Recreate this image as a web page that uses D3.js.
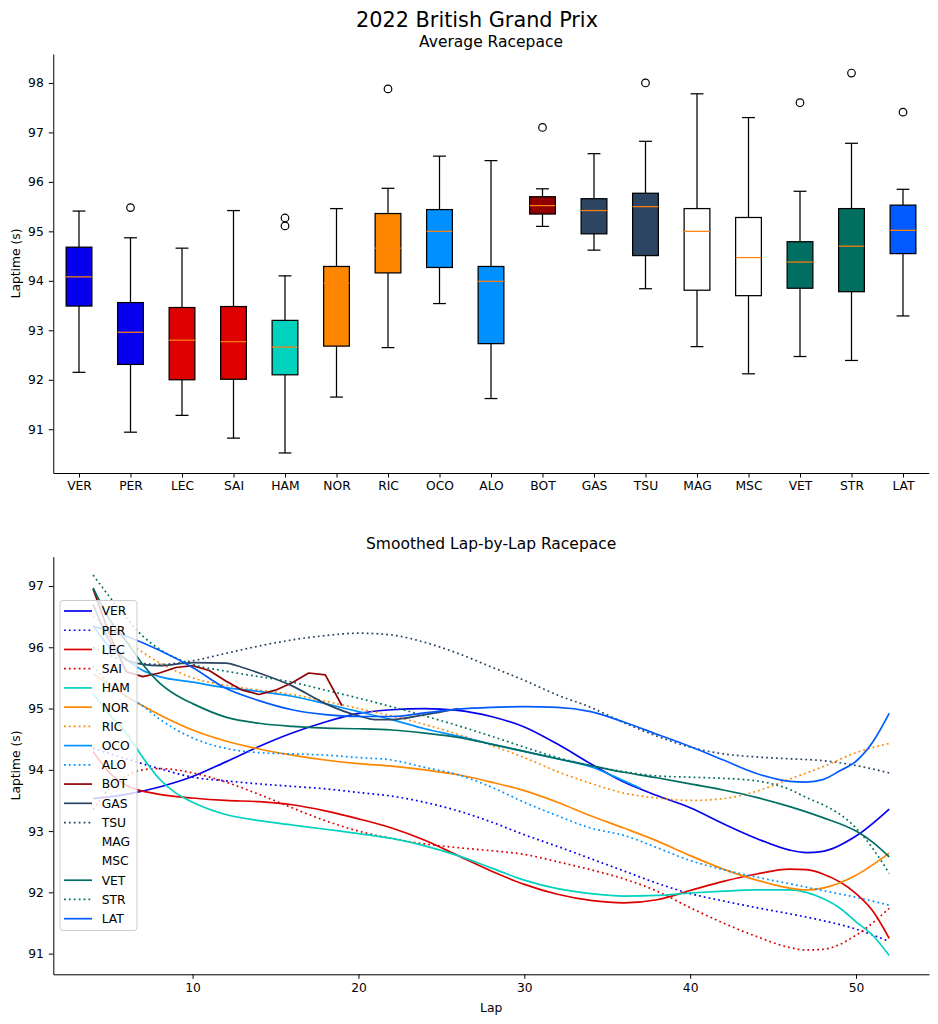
<!DOCTYPE html>
<html><head><meta charset="utf-8">
<script src="https://cdn.jsdelivr.net/npm/d3@7"></script>
<style>
body{margin:0;background:#fff;}
svg{display:block;font-family:"DejaVu Sans",sans-serif;}
</style></head>
<body>
<svg id="chart" width="938" height="1024"></svg>
<script>
// ---------- Box plot data (Average Racepace) ----------
const drivers = ["VER","PER","LEC","SAI","HAM","NOR","RIC","OCO","ALO","BOT","GAS","TSU","MAG","MSC","VET","STR","LAT"];
const boxColors = ["#0600ef","#0600ef","#dc0000","#dc0000","#00d2be","#ff8700","#ff8700","#0090ff","#0090ff","#900000","#2b4562","#2b4562","#ffffff","#ffffff","#006f62","#006f62","#005aff"];
const whiskerLow  = [92.15,90.94,91.28,90.82,90.52,91.65,92.65,93.54,91.62,95.10,94.62,93.84,92.67,92.12,92.47,92.39,93.29];
const q1          = [93.49,92.31,92.00,92.01,92.10,92.68,94.16,94.27,92.73,95.35,94.95,94.51,93.81,93.70,93.85,93.78,94.55];
const medians     = [94.08,92.96,92.80,92.77,92.66,93.95,94.66,95.00,93.99,95.52,95.42,95.50,95.00,94.47,94.38,94.70,95.02];
const q3          = [94.68,93.56,93.46,93.48,93.20,94.29,95.36,95.44,94.29,95.70,95.66,95.77,95.46,95.28,94.79,95.46,95.53];
const whiskerHigh = [95.41,94.87,94.66,95.42,94.10,95.46,95.87,96.52,96.43,95.86,96.57,96.82,97.78,97.30,95.81,96.78,95.85];
const outliers    = [[],[95.48],[],[],[95.27,95.11],[],[97.88],[],[],[97.10],[],[98.00],[],[],[97.60],[98.20],[97.41]];
const boxYTicks = [91,92,93,94,95,96,97,98];

// ---------- Line data (Smoothed Lap-by-Lap Racepace) ----------
const lineDrivers = ["VER","PER","LEC","SAI","HAM","NOR","RIC","OCO","ALO","BOT","GAS","TSU","MAG","MSC","VET","STR","LAT"];
const lineColors  = ["#0600ef","#0600ef","#dc0000","#dc0000","#00d2be","#ff8700","#ff8700","#0090ff","#0090ff","#900000","#2b4562","#2b4562","#ffffff","#ffffff","#006f62","#006f62","#005aff"];
const lineDotted  = [false,true,false,true,false,false,true,false,true,false,false,true,false,true,false,true,false];

const paceVER = [[4,93.53],[6,93.6],[8,93.72],[10,93.89],[12,94.13],[14,94.38],[16,94.6],[18,94.78],[20,94.92],[22,94.98],[24,95.0],[26,94.97],[28,94.87],[30,94.7],[32,94.42],[34,94.1],[36,93.8],[38,93.58],[40,93.38],[42,93.12],[44,92.88],[46,92.69],[47,92.65],[48,92.67],[50,92.92],[52,93.36]];
const pacePER = [[4,94.35],[6,94.18],[8,94.02],[10,93.88],[12,93.82],[14,93.77],[16,93.73],[18,93.69],[20,93.63],[22,93.57],[24,93.47],[26,93.33],[28,93.15],[30,92.94],[32,92.75],[34,92.55],[36,92.35],[38,92.15],[40,91.98],[42,91.86],[44,91.75],[46,91.65],[48,91.54],[50,91.4],[52,91.2]];
const paceLEC = [[4,94.3],[5,93.95],[6,93.75],[8,93.6],[10,93.54],[12,93.5],[14,93.48],[16,93.43],[18,93.33],[20,93.2],[22,93.05],[24,92.85],[26,92.6],[28,92.35],[30,92.13],[32,91.97],[34,91.87],[36,91.83],[38,91.88],[40,92.03],[42,92.18],[44,92.3],[46,92.38],[47,92.37],[48,92.3],[50,91.98],[51,91.7],[52,91.25]];
const paceSAI = [[4,93.35],[5,93.7],[6,93.9],[7,94.0],[8,94.02],[10,93.95],[12,93.8],[14,93.6],[16,93.38],[18,93.17],[20,93.0],[22,92.88],[24,92.79],[26,92.73],[28,92.68],[30,92.62],[32,92.5],[34,92.37],[36,92.22],[38,92.02],[40,91.75],[42,91.5],[44,91.28],[46,91.1],[47,91.06],[48,91.07],[50,91.3],[52,91.74]];
const paceHAM = [[4,95.25],[5,94.9],[6,94.6],[7,94.2],[8,93.85],[9,93.62],[10,93.47],[12,93.27],[14,93.17],[16,93.1],[18,93.03],[20,92.96],[22,92.88],[24,92.76],[26,92.6],[28,92.4],[30,92.2],[32,92.06],[34,91.98],[36,91.94],[38,91.95],[40,91.99],[42,92.02],[44,92.04],[46,92.04],[47,92.0],[48,91.9],[49,91.75],[50,91.52],[51,91.3],[52,90.97]];
const paceNOR = [[4,95.57],[6,95.2],[8,94.9],[10,94.65],[12,94.47],[14,94.34],[16,94.24],[18,94.16],[20,94.1],[22,94.06],[24,94.0],[26,93.92],[28,93.8],[30,93.66],[32,93.47],[34,93.25],[36,93.05],[38,92.84],[40,92.6],[42,92.38],[44,92.2],[46,92.07],[47,92.04],[48,92.07],[50,92.28],[52,92.64]];
const paceRIC = [[4,96.5],[6,96.1],[8,95.75],[10,95.5],[12,95.38],[14,95.3],[16,95.23],[18,95.12],[20,95.0],[22,94.88],[24,94.74],[26,94.58],[28,94.4],[30,94.2],[32,93.97],[34,93.78],[36,93.62],[38,93.54],[40,93.5],[42,93.53],[44,93.65],[46,93.85],[48,94.05],[50,94.28],[52,94.43]];
const paceOCO = [[4,96.35],[5,96.0],[6,95.8],[7,95.62],[8,95.52],[10,95.43],[12,95.34],[14,95.28],[16,95.2],[18,95.08],[20,94.95],[22,94.82],[24,94.67],[26,94.55],[28,94.42],[30,94.3],[32,94.18],[34,94.05],[36,93.82],[37,93.7]];
const paceALO = [[4,95.7],[5,95.4],[6,95.2],[7,95.04],[8,94.83],[10,94.52],[12,94.35],[14,94.28],[16,94.26],[18,94.24],[20,94.2],[22,94.16],[24,94.04],[26,93.92],[28,93.72],[30,93.47],[32,93.25],[34,93.05],[36,92.93],[38,92.73],[40,92.52],[42,92.37],[44,92.25],[46,92.14],[48,92.03],[50,91.92],[52,91.79]];
const paceBOT = [[4,96.95],[5,96.2],[6,95.6],[7,95.52],[8,95.58],[9,95.67],[10,95.7],[11,95.62],[12,95.45],[13,95.3],[14,95.23],[15,95.3],[16,95.42],[17,95.58],[18,95.55],[19,95.05]];
const paceGAS = [[4,96.7],[5,96.1],[6,95.8],[7,95.72],[8,95.7],[10,95.75],[12,95.74],[13,95.67],[14,95.58],[16,95.37],[18,95.08],[20,94.88],[21,94.82],[22,94.82],[24,94.9],[26,95.0]];
const paceTSU = [[4,96.0],[6,95.78],[8,95.72],[10,95.78],[12,95.9],[14,96.02],[16,96.12],[18,96.19],[20,96.23],[22,96.2],[24,96.08],[26,95.9],[28,95.68],[30,95.46],[32,95.22],[34,95.02],[36,94.77],[38,94.55],[40,94.37],[42,94.26],[44,94.21],[46,94.18],[48,94.15],[50,94.07],[52,93.95]];
const paceMAG = [[4,96.5],[10,95.6],[20,95.1],[30,94.6],[40,93.9],[52,93.5]];
const paceMSC = [[4,96.0],[10,95.2],[20,94.7],[30,94.3],[40,93.8],[52,93.2]];
const paceVET = [[4,96.97],[5,96.45],[6,96.1],[7,95.72],[8,95.42],[9,95.22],[10,95.08],[12,94.86],[14,94.76],[16,94.71],[18,94.68],[20,94.67],[22,94.65],[24,94.6],[26,94.53],[28,94.42],[30,94.3],[32,94.18],[34,94.07],[36,93.96],[38,93.87],[40,93.77],[42,93.67],[44,93.55],[46,93.4],[48,93.22],[50,93.0],[51,92.82],[52,92.58]];
const paceSTR = [[4,97.18],[5,96.82],[6,96.48],[7,96.18],[8,95.97],[10,95.72],[12,95.61],[14,95.52],[16,95.43],[18,95.3],[20,95.17],[22,95.03],[24,94.88],[26,94.72],[28,94.55],[30,94.37],[32,94.2],[34,94.07],[36,93.97],[38,93.9],[40,93.88],[42,93.86],[44,93.82],[46,93.68],[47,93.55],[48,93.43],[49,93.28],[50,93.05],[51,92.72],[52,92.31]];
const paceLAT = [[4,96.34],[6,96.18],[8,95.95],[10,95.67],[12,95.33],[14,95.13],[16,94.98],[18,94.9],[20,94.87],[22,94.87],[24,94.93],[26,94.99],[28,95.02],[30,95.03],[32,95.02],[34,94.95],[36,94.78],[38,94.58],[40,94.38],[42,94.16],[44,93.94],[46,93.81],[47,93.8],[48,93.84],[49,93.98],[50,94.14],[51,94.45],[52,94.92]];
const paceSeries = [paceVER,pacePER,paceLEC,paceSAI,paceHAM,paceNOR,paceRIC,paceOCO,paceALO,paceBOT,paceGAS,paceTSU,paceMAG,paceMSC,paceVET,paceSTR,paceLAT];
const lineYTicks = [91,92,93,94,95,96,97];
const lineXTicks = [10,20,30,40,50];

// ---------- Drawing ----------
const svg = d3.select("#chart");
const FS = 12.3;

svg.append("text").attr("x",477).attr("y",26.5).attr("text-anchor","middle")
  .attr("font-size",20.8).text("2022 British Grand Prix");

// Top chart
const t = {l:53.25, r:928.75, t:54, b:473};
const xb = d3.scalePoint().domain(drivers).range([t.l,t.r]).padding(0.5);
const yb = d3.scaleLinear().domain([90.115,98.585]).range([t.b,t.t]);
const step = xb.step();
const boxW = step*0.5, capW = step*0.25;

svg.append("text").attr("x",(t.l+t.r)/2).attr("y",47).attr("text-anchor","middle")
  .attr("font-size",15.5).text("Average Racepace");

const gb = svg.append("g");
drivers.forEach((d,i)=>{
  const cx = xb(d);
  const g = gb.append("g");
  // whiskers
  g.append("line").attr("x1",cx).attr("x2",cx).attr("y1",yb(q3[i])).attr("y2",yb(whiskerHigh[i])).attr("stroke","#000").attr("stroke-width",1.25);
  g.append("line").attr("x1",cx).attr("x2",cx).attr("y1",yb(q1[i])).attr("y2",yb(whiskerLow[i])).attr("stroke","#000").attr("stroke-width",1.25);
  g.append("line").attr("x1",cx-capW/2).attr("x2",cx+capW/2).attr("y1",yb(whiskerHigh[i])).attr("y2",yb(whiskerHigh[i])).attr("stroke","#000").attr("stroke-width",1.25);
  g.append("line").attr("x1",cx-capW/2).attr("x2",cx+capW/2).attr("y1",yb(whiskerLow[i])).attr("y2",yb(whiskerLow[i])).attr("stroke","#000").attr("stroke-width",1.25);
  // box
  g.append("rect").attr("x",cx-boxW/2).attr("width",boxW).attr("y",yb(q3[i])).attr("height",yb(q1[i])-yb(q3[i]))
    .attr("fill",boxColors[i]).attr("stroke","#000").attr("stroke-width",1.25);
  // median
  g.append("line").attr("x1",cx-boxW/2).attr("x2",cx+boxW/2).attr("y1",yb(medians[i])).attr("y2",yb(medians[i])).attr("stroke","#ff7f0e").attr("stroke-width",1.25);
  // outliers
  outliers[i].forEach(v=>{
    g.append("circle").attr("cx",cx).attr("cy",yb(v)).attr("r",3.8).attr("fill","none").attr("stroke","#000").attr("stroke-width",1.2);
  });
});

const axYb = svg.append("g").attr("transform",`translate(${t.l},0)`)
  .call(d3.axisLeft(yb).tickValues(boxYTicks).tickFormat(d3.format("d")).tickSize(4.5).tickSizeOuter(0).tickPadding(5));
const axXb = svg.append("g").attr("transform",`translate(0,${t.b})`)
  .call(d3.axisBottom(xb).tickSize(4.5).tickSizeOuter(0).tickPadding(4));
[axYb,axXb].forEach(a=>{
  a.selectAll("text").attr("font-size",FS).attr("font-family","DejaVu Sans").attr("fill","#000");
  a.selectAll("line").attr("stroke","#000").attr("stroke-width",1);
  a.select(".domain").attr("stroke","#000").attr("stroke-width",1);
});
svg.append("text").attr("transform",`translate(19.5,${(t.t+t.b)/2}) rotate(-90)`).attr("text-anchor","middle")
  .attr("font-size",FS).text("Laptime (s)");

// Bottom chart
const b = {l:53.3, r:929, t:556.7, b:974.3};
const xl = d3.scaleLinear().domain([1.6,54.4]).range([b.l,b.r]);
const yl = d3.scaleLinear().domain([90.663,97.478]).range([b.b,b.t]);

svg.append("text").attr("x",(b.l+b.r)/2).attr("y",548.5).attr("text-anchor","middle")
  .attr("font-size",15.5).text("Smoothed Lap-by-Lap Racepace");

const gl = svg.append("g");
const drawOrder = [12,13,0,1,2,3,4,5,6,7,8,9,10,11,14,15,16];
drawOrder.forEach(i=>{
  const line = d3.line().x(p=>xl(p[0])).y(p=>yl(p[1]))
    .curve(lineDrivers[i]==="BOT" ? d3.curveLinear : d3.curveMonotoneX);
  gl.append("path").attr("d",line(paceSeries[i])).attr("fill","none")
    .attr("stroke",lineColors[i]).attr("stroke-width",1.7)
    .attr("stroke-dasharray",lineDotted[i] ? "1.8,3.1" : null)
    .attr("stroke-linejoin","round");
});

const axYl = svg.append("g").attr("transform",`translate(${b.l},0)`)
  .call(d3.axisLeft(yl).tickValues(lineYTicks).tickFormat(d3.format("d")).tickSize(4.5).tickSizeOuter(0).tickPadding(5));
const axXl = svg.append("g").attr("transform",`translate(0,${b.b})`)
  .call(d3.axisBottom(xl).tickValues(lineXTicks).tickFormat(d3.format("d")).tickSize(4.5).tickSizeOuter(0).tickPadding(4.5));
[axYl,axXl].forEach(a=>{
  a.selectAll("text").attr("font-size",FS).attr("font-family","DejaVu Sans").attr("fill","#000");
  a.selectAll("line").attr("stroke","#000").attr("stroke-width",1);
  a.select(".domain").attr("stroke","#000").attr("stroke-width",1);
});
svg.append("text").attr("transform",`translate(19.5,${(b.t+b.b)/2}) rotate(-90)`).attr("text-anchor","middle")
  .attr("font-size",FS).text("Laptime (s)");
svg.append("text").attr("x",(b.l+b.r)/2).attr("y",1012).attr("text-anchor","middle")
  .attr("font-size",FS).text("Lap");

// Legend
const lg = svg.append("g");
lg.append("rect").attr("x",60).attr("y",600.5).attr("width",77).attr("height",330).attr("rx",3)
  .attr("fill","#fff").attr("fill-opacity",0.8).attr("stroke","#cccccc").attr("stroke-width",1);
lineDrivers.forEach((d,i)=>{
  const yy = 611 + i*19.23;
  lg.append("line").attr("x1",64).attr("x2",92).attr("y1",yy).attr("y2",yy)
    .attr("stroke",lineColors[i]).attr("stroke-width",1.7)
    .attr("stroke-dasharray",lineDotted[i] ? "1.8,3.1" : null);
  lg.append("text").attr("x",101.7).attr("y",yy).attr("dy","0.36em").attr("font-size",FS).text(d);
});
</script>
</body></html>
